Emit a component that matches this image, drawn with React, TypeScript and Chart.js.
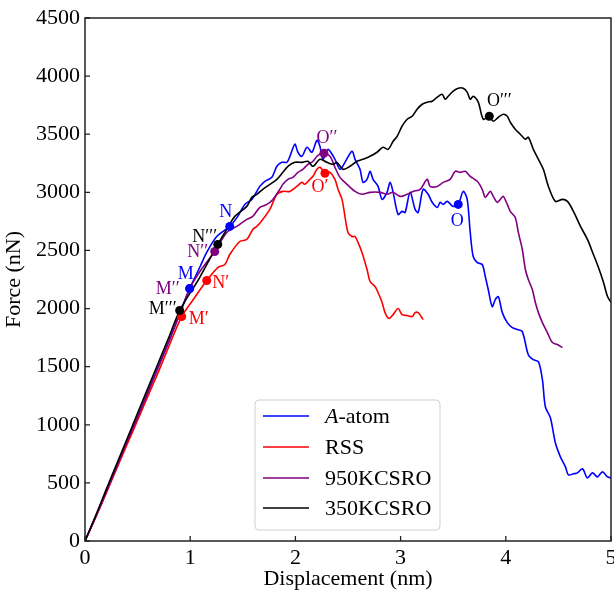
import React, { useEffect, useRef } from "react";
import { Chart, registerables } from "chart.js";

Chart.register(...registerables);

const FONT = "'Liberation Serif', 'Times New Roman', Times, serif";

// ---- data (Displacement nm, Force nN) ----
const aAtom: [number, number][] = [[0,0],[0.1,207],[0.205,422],[0.3,638],[0.405,862],[0.5,1069],[0.605,1293],[0.7,1508],[0.805,1733],[0.9,1957],[0.995,2172],[1.09,2353],[1.157,2483],[1.252,2620],[1.376,2707],[1.452,2793],[1.519,2896],[1.586,2939],[1.662,3051],[1.71,3095],[1.776,3129],[1.824,3224],[1.871,3258],[1.919,3258],[1.948,3310],[1.995,3414],[2.024,3345],[2.062,3310],[2.11,3388],[2.157,3345],[2.205,3448],[2.233,3396],[2.262,3284],[2.31,3370],[2.376,3284],[2.424,3198],[2.471,3258],[2.538,3353],[2.567,3284],[2.614,3198],[2.643,3086],[2.681,3112],[2.71,3181],[2.738,3112],[2.786,3051],[2.824,2939],[2.871,3000],[2.9,3086],[2.929,3000],[2.976,2810],[3.014,2836],[3.043,2827],[3.09,3000],[3.138,2853],[3.167,2827],[3.214,3026],[3.262,2983],[3.3,2914],[3.348,2870],[3.376,2914],[3.405,2896],[3.443,2922],[3.5,2879],[3.548,2896],[3.595,3008],[3.633,2939],[3.662,2655],[3.69,2448],[3.729,2396],[3.776,2379],[3.805,2276],[3.833,2164],[3.871,2017],[3.9,2077],[3.929,2103],[3.967,1965],[4.014,1879],[4.062,1836],[4.11,1819],[4.157,1802],[4.214,1603],[4.262,1560],[4.31,1543],[4.348,1388],[4.376,1155],[4.424,1060],[4.471,845],[4.519,724],[4.567,638],[4.595,569],[4.643,578],[4.681,586],[4.729,621],[4.776,543],[4.824,586],[4.871,552],[4.919,595],[4.967,552],[5.0,543]];

const rss: [number, number][] = [[0,0],[0.1,200],[0.2,410],[0.3,620],[0.4,830],[0.5,1040],[0.6,1250],[0.7,1460],[0.8,1680],[0.919,1931],[1.043,2095],[1.157,2241],[1.262,2353],[1.329,2379],[1.376,2465],[1.471,2577],[1.538,2595],[1.595,2681],[1.633,2707],[1.69,2767],[1.757,2853],[1.824,2983],[1.881,3008],[1.948,3008],[2.014,3051],[2.062,3086],[2.09,3069],[2.138,3112],[2.167,3138],[2.205,3198],[2.233,3215],[2.281,3172],[2.329,3172],[2.376,3112],[2.405,3026],[2.443,2939],[2.471,2793],[2.5,2655],[2.538,2620],[2.567,2620],[2.595,2569],[2.633,2483],[2.681,2336],[2.71,2233],[2.757,2189],[2.786,2138],[2.824,2052],[2.852,1965],[2.89,1914],[2.929,1948],[2.976,2000],[3.014,1948],[3.062,1940],[3.11,1931],[3.138,1965],[3.167,1965],[3.195,1931],[3.214,1905]];

const kcsro950: [number, number][] = [[0,0],[0.1,205],[0.2,420],[0.3,635],[0.4,855],[0.5,1065],[0.6,1285],[0.7,1500],[0.8,1725],[0.9,1950],[0.995,2172],[1.1,2330],[1.233,2491],[1.348,2655],[1.443,2707],[1.538,2767],[1.595,2793],[1.662,2870],[1.729,2896],[1.786,2939],[1.852,3026],[1.881,3069],[1.929,3112],[1.976,3129],[2.024,3172],[2.071,3198],[2.119,3241],[2.167,3267],[2.205,3310],[2.233,3327],[2.271,3336],[2.329,3310],[2.376,3215],[2.424,3129],[2.49,3069],[2.567,3008],[2.633,2983],[2.71,3000],[2.805,3000],[2.871,2983],[2.929,3000],[2.995,2965],[3.062,2983],[3.119,3008],[3.186,3026],[3.252,3112],[3.281,3051],[3.348,3051],[3.405,3086],[3.471,3112],[3.519,3181],[3.567,3172],[3.614,3181],[3.662,3138],[3.729,3095],[3.776,3026],[3.805,2957],[3.852,3008],[3.881,2965],[3.919,2914],[3.948,2939],[3.976,2965],[4.014,2896],[4.043,2836],[4.09,2784],[4.119,2655],[4.157,2508],[4.186,2336],[4.214,2250],[4.252,2164],[4.281,2052],[4.31,1965],[4.348,1879],[4.395,1793],[4.443,1707],[4.49,1690],[4.538,1664]];

const kcsro350: [number, number][] = [[0,0],[0.1,215],[0.2,440],[0.3,660],[0.4,880],[0.5,1100],[0.6,1320],[0.7,1540],[0.8,1760],[0.9,1983],[1.09,2267],[1.262,2552],[1.348,2681],[1.424,2793],[1.538,2879],[1.586,2957],[1.633,2983],[1.69,3026],[1.757,3069],[1.824,3112],[1.881,3172],[1.929,3224],[1.995,3258],[2.062,3258],[2.119,3267],[2.167,3224],[2.233,3284],[2.3,3258],[2.357,3241],[2.395,3258],[2.452,3198],[2.519,3224],[2.586,3267],[2.643,3284],[2.71,3310],[2.776,3345],[2.833,3388],[2.881,3370],[2.929,3439],[2.967,3482],[3.014,3569],[3.062,3629],[3.11,3655],[3.157,3715],[3.205,3758],[3.252,3776],[3.3,3784],[3.348,3819],[3.395,3844],[3.424,3801],[3.452,3827],[3.5,3870],[3.548,3896],[3.595,3896],[3.633,3862],[3.662,3801],[3.69,3827],[3.738,3776],[3.786,3629],[3.843,3655],[3.881,3612],[3.929,3646],[3.976,3672],[4.014,3655],[4.043,3603],[4.09,3543],[4.138,3500],[4.186,3457],[4.214,3474],[4.262,3370],[4.31,3284],[4.357,3198],[4.405,3051],[4.471,2922],[4.538,2939],[4.586,2922],[4.643,2836],[4.71,2707],[4.776,2595],[4.833,2465],[4.881,2353],[4.929,2224],[4.967,2103],[5.0,2052]];

const seriesNames = ["A-atom", "RSS", "950KCSRO", "350KCSRO"];
const seriesColors = ["#0000ff", "#ff0000", "#800080", "#000000"];
const seriesData = [aAtom, rss, kcsro950, kcsro350];

// key points: series index, label, x, y
const keySeries = [2, 0, 1, 3];
const keyLabels: string[][] = [
  ["M", "N", "O"],
  ["M\u2032", "N\u2032", "O\u2032"],
  ["M\u2032\u2032", "N\u2032\u2032", "O\u2032\u2032"],
  ["M\u2032\u2032\u2032", "N\u2032\u2032\u2032", "O\u2032\u2032\u2032"],
];
const keyX: number[][] = [
  [0.995, 1.376, 3.548],
  [0.919, 1.157, 2.281],
  [0.995, 1.233, 2.271],
  [0.9, 1.262, 3.843],
];
const keyY: number[][] = [
  [2172, 2707, 2896],
  [1931, 2241, 3164],
  [2172, 2491, 3336],
  [1983, 2552, 3655],
];
// label offsets in px (style)
const keyOffsets: [number, number][][] = [
  [[-4, -14], [-4, -14], [-1, 17]],
  [[17, 3], [14, 3], [-5, 14]],
  [[-22, 1], [-17, 1], [3, -15]],
  [[-17, -1], [-13, -7], [10, -15]],
];

const xTicks = [0, 1, 2, 3, 4, 5];
const yTicks = [0, 500, 1000, 1500, 2000, 2500, 3000, 3500, 4000, 4500];

export default function App() {
  const ref = useRef<HTMLCanvasElement | null>(null);

  useEffect(() => {
    const canvas = ref.current;
    if (!canvas) return;

    const lineSets = seriesData.map((d, i) => ({
      label: seriesNames[i],
      data: d.map(([x, y]) => ({ x, y })),
      borderColor: seriesColors[i],
      backgroundColor: seriesColors[i],
      borderWidth: 1.6,
      showLine: true,
      pointRadius: 0,
      tension: 0.3,
      order: 10 - i,
    }));

    const markerSets = keySeries.map((s, k) => ({
      label: "key-" + s,
      data: keyX[s].map((x, j) => ({ x, y: keyY[s][j] })),
      borderColor: seriesColors[s],
      backgroundColor: seriesColors[s],
      showLine: false,
      pointRadius: 4.5,
      pointBorderWidth: 0,
      order: 4 - k,
    }));

    const decor = {
      id: "decor",
      afterDatasetsDraw(chart: any) {
        const { ctx, chartArea: a, scales } = chart;
        const xs = scales.x;
        const ys = scales.y;
        ctx.save();
        // point labels
        ctx.font = `18px ${FONT}`;
        ctx.textAlign = "center";
        ctx.textBaseline = "middle";
        for (let s = 0; s < 4; s++) {
          ctx.fillStyle = seriesColors[s];
          for (let j = 0; j < 3; j++) {
            const px = xs.getPixelForValue(keyX[s][j]) + keyOffsets[s][j][0];
            const py = ys.getPixelForValue(keyY[s][j]) + keyOffsets[s][j][1];
            ctx.fillText(keyLabels[s][j], px, py);
          }
        }
        // frame
        ctx.strokeStyle = "#222";
        ctx.lineWidth = 1.5;
        ctx.strokeRect(a.left, a.top, a.right - a.left, a.bottom - a.top);
        // inward ticks
        ctx.lineWidth = 1.3;
        ctx.beginPath();
        xTicks.forEach((v) => {
          const p = xs.getPixelForValue(v);
          ctx.moveTo(p, a.bottom);
          ctx.lineTo(p, a.bottom - 5);
        });
        yTicks.forEach((v) => {
          const p = ys.getPixelForValue(v);
          ctx.moveTo(a.left, p);
          ctx.lineTo(a.left + 5, p);
        });
        ctx.stroke();

        // legend
        const lx = 255, ly = 400, lw = 185, lh = 130, r = 4;
        ctx.beginPath();
        ctx.moveTo(lx + r, ly);
        ctx.arcTo(lx + lw, ly, lx + lw, ly + lh, r);
        ctx.arcTo(lx + lw, ly + lh, lx, ly + lh, r);
        ctx.arcTo(lx, ly + lh, lx, ly, r);
        ctx.arcTo(lx, ly, lx + lw, ly, r);
        ctx.closePath();
        ctx.fillStyle = "rgba(255,255,255,0.85)";
        ctx.fill();
        ctx.strokeStyle = "#d0d0d0";
        ctx.lineWidth = 1;
        ctx.stroke();
        const rows = [416, 447, 478, 508];
        ctx.textAlign = "left";
        ctx.textBaseline = "middle";
        seriesNames.forEach((name, i) => {
          const y = rows[i];
          ctx.strokeStyle = seriesColors[i];
          ctx.lineWidth = 1.6;
          ctx.beginPath();
          ctx.moveTo(263, y);
          ctx.lineTo(309, y);
          ctx.stroke();
          ctx.fillStyle = "#000";
          if (name.startsWith("A-")) {
            ctx.font = `italic 22px ${FONT}`;
            ctx.fillText("A", 325, y + 1);
            const w = ctx.measureText("A").width;
            ctx.font = `22px ${FONT}`;
            ctx.fillText(name.slice(1), 325 + w, y + 1);
          } else {
            ctx.font = `22px ${FONT}`;
            ctx.fillText(name, 325, y + 1);
          }
        });
        ctx.restore();
      },
    };

    const chart = new Chart(canvas, {
      type: "scatter",
      data: { datasets: [...lineSets, ...markerSets] as any },
      options: {
        responsive: false,
        animation: false,
        devicePixelRatio: 1,
        layout: { padding: { top: 18, right: 3, left: 0, bottom: 0 }, autoPadding: false } as any,
        plugins: { legend: { display: false }, tooltip: { enabled: false } },
        scales: {
          x: {
            type: "linear",
            min: 0,
            max: 5,
            afterBuildTicks: (s: any) => {
              s.ticks = xTicks.map((v) => ({ value: v }));
            },
            afterFit: (s: any) => {
              s.height = 51;
              s.paddingLeft = 0;
              s.paddingRight = 0;
            },
            ticks: { color: "#000", font: { family: FONT, size: 22 }, padding: 4, maxRotation: 0, callback: (v: any) => String(v) },
            grid: { display: false, drawTicks: false },
            border: { display: false },
            title: {
              display: true,
              text: "Displacement (nm)",
              color: "#000",
              font: { family: FONT, size: 22 },
              padding: { top: 0, bottom: 0 },
            },
          },
          y: {
            type: "linear",
            min: 0,
            max: 4500,
            afterBuildTicks: (s: any) => {
              s.ticks = yTicks.map((v) => ({ value: v }));
            },
            afterFit: (s: any) => {
              s.width = 85;
              s.paddingTop = 0;
              s.paddingBottom = 0;
            },
            ticks: { color: "#000", font: { family: FONT, size: 22 }, padding: 5, callback: (v: any) => String(v) },
            grid: { display: false, drawTicks: false },
            border: { display: false },
            title: {
              display: true,
              text: "Force (nN)",
              color: "#000",
              font: { family: FONT, size: 22 },
              padding: { top: 1, bottom: 0 },
            },
          },
        },
      },
      plugins: [decor],
    });

    return () => chart.destroy();
  }, []);

  return (
    <div style={{ position: "absolute", left: 0, top: 0, width: 614, height: 592, background: "#fff" }}>
      <canvas ref={ref} width={614} height={592} style={{ width: 614, height: 592 }} />
    </div>
  );
}
